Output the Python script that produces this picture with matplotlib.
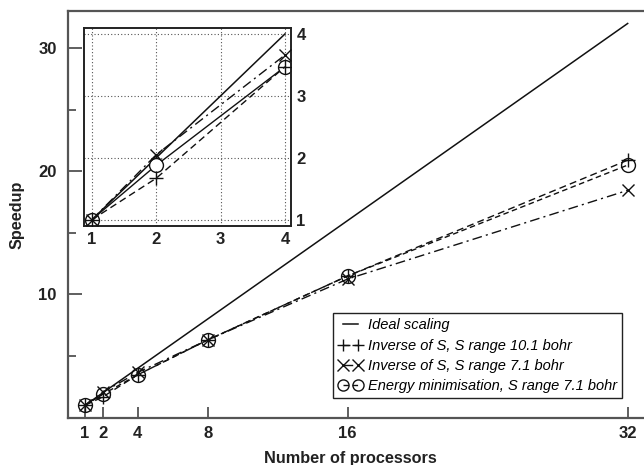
import matplotlib
matplotlib.use("Agg")
import matplotlib.pyplot as plt
from matplotlib.ticker import FixedLocator

plt.rcParams['font.family'] = ['Liberation Sans', 'DejaVu Sans']

procs = [1, 2, 4, 8, 16, 32]
ideal = [1, 2, 4, 8, 16, 32]
inv_101 = [1, 1.67, 3.47, 6.3, 11.5, 20.9]
inv_71 = [1, 2.05, 3.66, 6.3, 11.25, 18.45]
energy = [1, 1.88, 3.47, 6.3, 11.5, 20.5]

inset_procs = [1, 2, 4]
inset_ticks = [1, 2, 3, 4]
xtick_labels = ['1', '2', '4', '8', '16', '32']

labels = ['Ideal scaling',
          'Inverse of S, S range 10.1 bohr',
          'Inverse of S, S range 7.1 bohr',
          'Energy minimisation, S range 7.1 bohr']

fig = plt.figure(figsize=(6.44, 4.65), dpi=100)
ax = fig.add_axes([0.105, 0.102, 0.924, 0.874])

lc = '#111111'
ax.plot(procs, ideal, '-', color=lc, lw=1.1, label=labels[0])
ax.plot(procs, inv_101, '--', color=lc, lw=1.0, marker='+', ms=10, mew=1.0,
        dashes=(5, 3), label=labels[1], zorder=3)
ax.plot(procs, inv_71, '-.', color=lc, lw=1.0, marker='x', ms=8, mew=1.0,
        dashes=(7, 3, 1.5, 3), label=labels[2], zorder=3)
ax.plot(procs, energy, '--', color=lc, lw=1.0, marker='o', ms=10, mew=1.0,
        mfc='none', dashes=(4, 2.5), label=labels[3], zorder=2)

ax.set_xlim(0, 34)
ax.set_ylim(0, 33)
ax.xaxis.set_major_locator(FixedLocator(procs))
ax.set_xticklabels(xtick_labels)
ax.yaxis.set_major_locator(FixedLocator([10, 20, 30]))
ax.yaxis.set_minor_locator(FixedLocator([5, 15, 25]))
ax.tick_params(axis='both', which='both', direction='in', colors='#444444',
               labelcolor='#222222', width=1.2)
ax.tick_params(axis='x', which='major', length=8, top=False, pad=6)
ax.tick_params(axis='y', which='major', length=10, right=True, pad=8)
ax.tick_params(axis='y', which='minor', length=6, right=True)
for lab in ax.get_xticklabels() + ax.get_yticklabels():
    lab.set_fontweight('bold')
    lab.set_fontsize(12)
for s in ax.spines.values():
    s.set_color('#555555')
    s.set_linewidth(1.6)

ax.set_xlabel('Number of processors', fontsize=11.7, fontweight='bold', color='#222222')
ax.xaxis.set_label_coords((350 - 67.7) / 595, -0.083)
ax.set_ylabel('Speedup', fontsize=11.7, fontweight='bold', color='#222222')
ax.yaxis.set_label_coords(-0.072, 0.5)

leg = ax.legend(loc='lower right', bbox_to_anchor=((622 - 67.7) / 595, (417.6 - 398) / 406.6),
                numpoints=2, handlelength=1.6, handletextpad=0.4, borderpad=0.35,
                labelspacing=0.42, fancybox=False, framealpha=1,
                edgecolor='#222222', borderaxespad=0,
                prop={'style': 'italic', 'size': 10.5})
leg.get_frame().set_linewidth(1.0)
for h in leg.legend_handles:
    try:
        h.set_markersize(8)
    except Exception:
        pass

# inset
ia = fig.add_axes([0.131, 0.514, 0.3205, 0.425])
ia.plot(inset_procs, [1, 2, 4], '-', color=lc, lw=1.1)
ia.plot(inset_procs, energy[:3], '-', color=lc, lw=1.0, marker='o', ms=10, mew=1.0,
        mfc='white', zorder=2)
ia.plot(inset_procs, inv_101[:3], '--', color=lc, lw=1.0, marker='+', ms=10, mew=1.0,
        dashes=(5, 3), zorder=3)
ia.plot(inset_procs, inv_71[:3], '-.', color=lc, lw=1.0, marker='x', ms=8, mew=1.0,
        dashes=(7, 3, 1.5, 3), zorder=3)
ia.set_xlim(0.885, 4.09)
ia.set_ylim(0.9, 4.09)
ia.xaxis.set_major_locator(FixedLocator(inset_ticks))
ia.yaxis.set_major_locator(FixedLocator(inset_ticks))
ia.yaxis.tick_right()
ia.tick_params(axis='both', length=0, labelsize=12, labelcolor='#222222', pad=4)
for lab in ia.get_xticklabels() + ia.get_yticklabels():
    lab.set_fontweight('bold')
ia.grid(True, linestyle=(0, (1, 2)), color='#555555', lw=0.8)
for s in ia.spines.values():
    s.set_color('#222222')
    s.set_linewidth(1.4)

fig.savefig('out.png', dpi=100)
